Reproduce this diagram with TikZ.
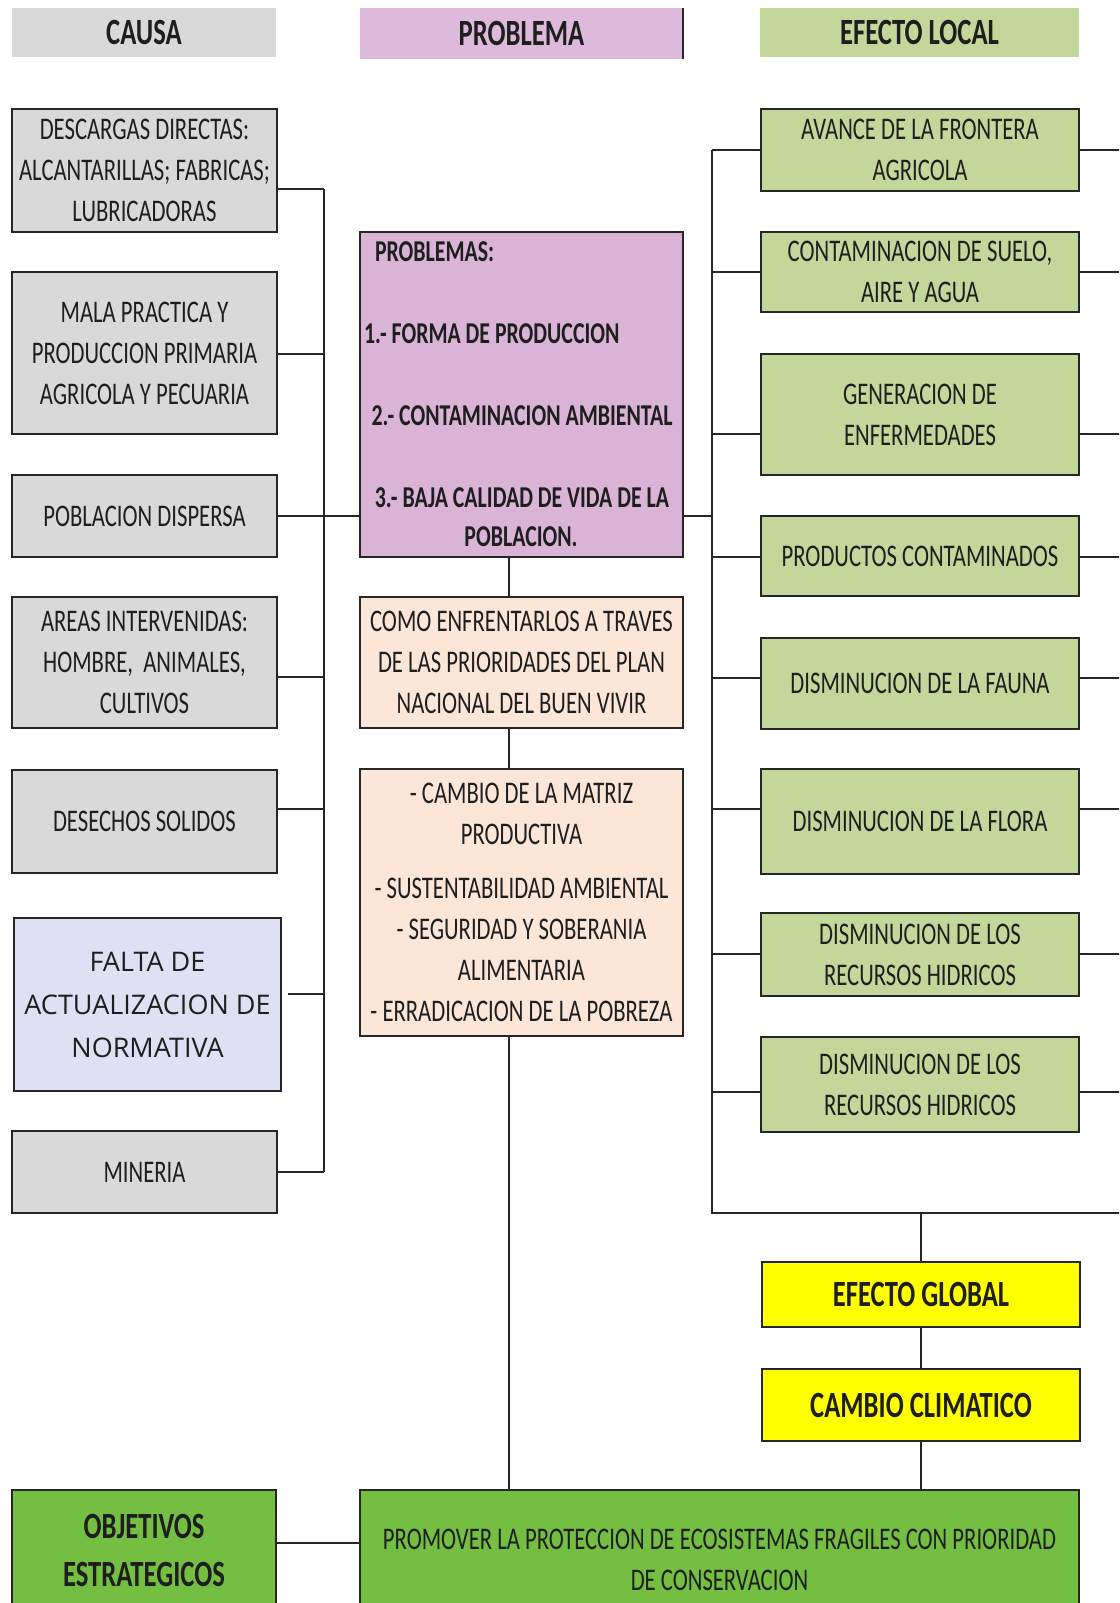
\documentclass[tikz,border=0pt]{standalone}
\usepackage{fontspec}
\setmainfont{Carlito}[FakeStretch=0.72]
\newfontfamily\faltafont{Open Sans}
\definecolor{graybox}{HTML}{D9D9D9}
\definecolor{pinkbox}{HTML}{D9B4D6}
\definecolor{pinkhdr}{HTML}{DDBADB}
\definecolor{peach}{HTML}{FCE6D8}
\definecolor{greenbox}{HTML}{C4D79B}
\definecolor{lavender}{HTML}{E0E0F4}
\definecolor{yellowbox}{HTML}{FFFF00}
\definecolor{darkgreen}{HTML}{74BE42}
\definecolor{boxline}{HTML}{262626}
\definecolor{txt}{HTML}{1E1E1E}
\begin{document}
\begin{tikzpicture}[x=1pt,y=-1pt,
  box/.style={draw=boxline, line width=2.2pt, inner sep=0pt, outer sep=0pt, align=center, text=txt,
    font=\fontsize{31.5}{41}\selectfont},
  boldbox/.style={box, font=\fontsize{37}{48}\selectfont\bfseries},
  hdr/.style={inner sep=0pt, outer sep=0pt, text=txt, font=\fontsize{37}{40}\selectfont\bfseries},
  ptxt/.style={inner sep=0pt, outer sep=0pt, text=txt, font=\fontsize{30.3}{40}\selectfont\bfseries},
  conn/.style={draw=boxline, line width=2pt},
  ]
\useasboundingbox (0,0) rectangle (1119,1603);
\clip (0,0) rectangle (1119,1603);
\fill[white] (0,0) rectangle (1119,1603);

% headers
\node[hdr, fill=graybox, minimum width=264pt, minimum height=49pt] (hcausa) at (144,32.5) {CAUSA};
\node[hdr, fill=pinkhdr, minimum width=323pt, minimum height=51pt] (hprob) at (521.5,33.5) {PROBLEMA};
\draw[boxline, line width=1.5pt] (hprob.north east) -- (hprob.south east);
\node[hdr, fill=greenbox, minimum width=319pt, minimum height=49pt] (hefecto) at (919.5,32.5) {EFECTO LOCAL};

% causes
\node[box, fill=graybox, minimum width=265pt, minimum height=123pt] (c1) at (144.5,170.5)
  {DESCARGAS DIRECTAS:\\ALCANTARILLAS; FABRICAS;\\LUBRICADORAS};
\node[box, fill=graybox, minimum width=265pt, minimum height=162pt] (c2) at (144.5,353)
  {MALA PRACTICA Y\\PRODUCCION PRIMARIA\\AGRICOLA Y PECUARIA};
\node[box, fill=graybox, minimum width=265pt, minimum height=82pt] (c3) at (144.5,516)
  {POBLACION DISPERSA};
\node[box, fill=graybox, minimum width=265pt, minimum height=131pt] (c4) at (144.5,662.5)
  {AREAS INTERVENIDAS:\\HOMBRE, \ ANIMALES,\\CULTIVOS};
\node[box, fill=graybox, minimum width=265pt, minimum height=103pt] (c5) at (144.5,821.5)
  {DESECHOS SOLIDOS};
\node[box, fill=lavender, line width=1.6pt, minimum width=267pt, minimum height=173pt,
  font=\faltafont\fontsize{27}{43}\selectfont] (c6) at (147.5,1004.5)
  {FALTA DE\\ACTUALIZACION DE\\NORMATIVA};
\node[box, fill=graybox, minimum width=265pt, minimum height=82pt] (c7) at (144.5,1172)
  {MINERIA};

% middle
\node[box, fill=pinkbox, minimum width=323pt, minimum height=325pt] (prob) at (521.5,394.5) {};
\node[ptxt, anchor=west] (p0) at (375,252) {PROBLEMAS:};
\node[ptxt, anchor=west] (p1) at (364,334) {1.- FORMA DE PRODUCCION};
\node[ptxt] (p2) at (522,416) {2.- CONTAMINACION AMBIENTAL};
\node[ptxt] (p3) at (522,498) {3.- BAJA CALIDAD DE VIDA DE LA};
\node[ptxt] (p4) at (521,537) {POBLACION.};

\node[box, fill=peach, minimum width=323pt, minimum height=131pt] (como) at (521.5,662.5)
  {COMO ENFRENTARLOS A TRAVES\\DE LAS PRIORIDADES DEL PLAN\\NACIONAL DEL BUEN VIVIR};
\node[box, fill=peach, minimum width=323pt, minimum height=267pt] (cambio) at (521.5,902.5)
  {- CAMBIO DE LA MATRIZ\\PRODUCTIVA\\[13pt]- SUSTENTABILIDAD AMBIENTAL\\- SEGURIDAD Y SOBERANIA\\ALIMENTARIA\\- ERRADICACION DE LA POBREZA};

% effects
\node[box, fill=greenbox, minimum width=318pt, minimum height=82pt] (e1) at (920,150)
  {AVANCE DE LA FRONTERA\\AGRICOLA};
\node[box, fill=greenbox, minimum width=318pt, minimum height=80pt] (e2) at (920,272)
  {CONTAMINACION DE SUELO,\\AIRE Y AGUA};
\node[box, fill=greenbox, minimum width=318pt, minimum height=121pt] (e3) at (920,414.5)
  {GENERACION DE\\ENFERMEDADES};
\node[box, fill=greenbox, minimum width=318pt, minimum height=80pt] (e4) at (920,556)
  {PRODUCTOS CONTAMINADOS};
\node[box, fill=greenbox, minimum width=318pt, minimum height=91pt] (e5) at (920,683.5)
  {DISMINUCION DE LA FAUNA};
\node[box, fill=greenbox, minimum width=318pt, minimum height=105pt] (e6) at (920,821.5)
  {DISMINUCION DE LA FLORA};
\node[box, fill=greenbox, minimum width=318pt, minimum height=83pt] (e7) at (920,954.5)
  {DISMINUCION DE LOS\\RECURSOS HIDRICOS};
\node[box, fill=greenbox, minimum width=318pt, minimum height=95pt] (e8) at (920,1084.5)
  {DISMINUCION DE LOS\\RECURSOS HIDRICOS};

\node[boldbox, fill=yellowbox, minimum width=318pt, minimum height=65pt] (glob) at (921,1294.5)
  {EFECTO GLOBAL};
\node[boldbox, fill=yellowbox, minimum width=318pt, minimum height=72pt] (clima) at (921,1405)
  {CAMBIO CLIMATICO};

% bottom
\node[boldbox, fill=darkgreen, minimum width=264pt, minimum height=120pt] (obj) at (144,1550)
  {OBJETIVOS\\ESTRATEGICOS};
\node[box, fill=darkgreen, minimum width=719pt, minimum height=140pt] (prom) at (719.5,1560)
  {PROMOVER LA PROTECCION DE ECOSISTEMAS FRAGILES CON PRIORIDAD\\DE CONSERVACION};

% left bus
\coordinate (lb1) at (324,189);
\coordinate (lb2) at (324,354);
\coordinate (lb3) at (324,516);
\coordinate (lb4) at (324,677);
\coordinate (lb5) at (324,809);
\coordinate (lb6) at (324,994);
\coordinate (lb7) at (324,1172);
\coordinate (c6e) at ([xshift=7pt]c6.east);
\draw[conn] (lb1) -- (lb7);
\draw[conn] (c1.east |- lb1) -- (lb1);
\draw[conn] (c2.east |- lb2) -- (lb2);
\draw[conn] (c3.east |- lb3) -- (prob.west |- lb3);
\draw[conn] (c4.east |- lb4) -- (lb4);
\draw[conn] (c5.east |- lb5) -- (lb5);
\draw[conn] (c6e |- lb6) -- (lb6);
\draw[conn] (c7.east |- lb7) -- (lb7);

% middle line
\coordinate (mx) at (509,0);
\draw[conn] (prob.south -| mx) -- (como.north -| mx);
\draw[conn] (como.south -| mx) -- (cambio.north -| mx);
\draw[conn] (cambio.south -| mx) -- (prom.north -| mx);

% right buses
\coordinate (rb1) at (712,150);
\coordinate (rb2) at (712,272);
\coordinate (rb3) at (712,434);
\coordinate (rb4) at (712,557);
\coordinate (rb5) at (712,678);
\coordinate (rb6) at (712,809);
\coordinate (rb7) at (712,954);
\coordinate (rb8) at (712,1092);
\coordinate (rbot) at (712,1213);
\coordinate (redge) at (1125,1213);
\coordinate (pr) at (712,516);
\draw[conn] (rb1) -- (rbot) -- (redge);
\draw[conn] (prob.east |- pr) -- (pr);
\foreach \i in {1,...,8}{
  \draw[conn] (rb\i) -- (e\i.west |- rb\i);
  \draw[conn] (e\i.east |- rb\i) -- (redge |- rb\i);
}
\draw[conn] (glob.north |- rbot) -- (glob.north);
\draw[conn] (glob.south) -- (clima.north);
\draw[conn] (clima.south) -- (prom.north -| clima.south);

\coordinate (oy) at (0,1543);
\draw[conn] (obj.east |- oy) -- (prom.west |- oy);
\end{tikzpicture}
\end{document}
